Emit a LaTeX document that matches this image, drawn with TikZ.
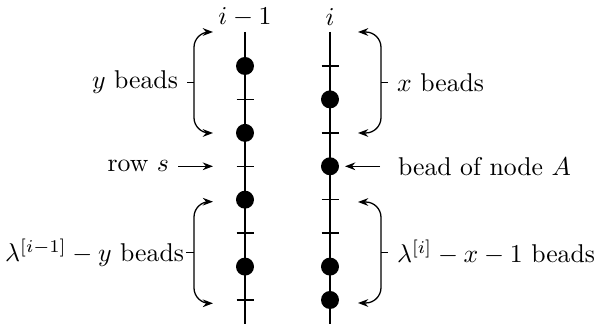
\documentclass[tikz,border=0pt]{standalone}
\usetikzlibrary{arrows.meta}
\begin{document}
\begin{tikzpicture}[x=0.3889pt,y=-0.3889pt,
  bead/.style={circle,fill=black,inner sep=0pt,minimum size=7pt},
  line/.style={line width=0.5pt},
  arr/.style={line width=0.5pt,-{Stealth[length=4pt,width=3pt]}},
  brace/.style={line width=0.5pt,rounded corners=6pt,{Stealth[length=4pt,width=3pt]}-{Stealth[length=4pt,width=3pt]}},
  lbl/.style={font=\fontsize{10pt}{12pt}\selectfont}]
\useasboundingbox (0,0) rectangle (600,324);
% runner labels
\node[lbl] (lt) at (245,17) {$i-1$};
\node[lbl] (rt) at (330,17) {$i$};
% runners
\coordinate (la) at (245,32); \coordinate (lb) at (245,324);
\coordinate (ra) at (330,32); \coordinate (rb) at (330,324);
\draw[line] (la) -- (lb);
\draw[line] (ra) -- (rb);
% left ticks
\foreach \y in {99.4,166.3,233.1,300}{\draw[line] (236.5,\y) -- (253.5,\y);}
% right ticks
\foreach \y in {66,132.9,199.7,233.1}{\draw[line] (321.5,\y) -- (338.5,\y);}
% beads
\node[bead] (l1) at (245,66) {};
\node[bead] (l3) at (245,132.9) {};
\node[bead] (l5) at (245,199.7) {};
\node[bead] (l7) at (245,266.6) {};
\node[bead] (r2) at (330,99.4) {};
\node[bead] (r4) at (330,166.3) {};
\node[bead] (r7) at (330,266.6) {};
\node[bead] (r8) at (330,300) {};
% left top brace
\coordinate (b1a) at (213,32); \coordinate (b1m) at (194,82.5); \coordinate (b1b) at (213,133);
\draw[brace] (b1a) -| (b1m) |- (b1b);
\node[lbl,anchor=east] (ylab) at (187,82.5) {$y$ beads};
\draw[line] (ylab.east) -- (b1m);
% row s
\node[lbl,anchor=east] (rows) at (178,166.3) {row $s$};
\coordinate (rsend) at (213,166.3);
\draw[arr] (rows.east) -- (rsend);
% left bottom brace
\coordinate (b2a) at (213,201.7); \coordinate (b2m) at (194,252.5); \coordinate (b2b) at (213,303.3);
\draw[brace] (b2a) -| (b2m) |- (b2b);
\node[lbl,anchor=east,inner xsep=0.6pt] (llab) at (186,252.5) {$\lambda^{[i-1]}-y$ beads};
\draw[line] (llab.east) -- (b2m);
% right top brace
\coordinate (b3a) at (358,32); \coordinate (b3m) at (381,82.5); \coordinate (b3b) at (358,133);
\draw[brace] (b3a) -| (b3m) |- (b3b);
\node[lbl,anchor=west] (xlab) at (388,82.5) {$x$ beads};
\draw[line] (b3m) -- (xlab.west);
% bead of node A
\node[lbl,anchor=west] (alab) at (389,166.3) {bead of node $A$};
\coordinate (astart) at (380,166.3); \coordinate (aend) at (345,166.3);
\draw[arr] (astart) -- (aend);
% right bottom brace
\coordinate (b4a) at (358,202); \coordinate (b4m) at (381,252.5); \coordinate (b4b) at (358,303);
\draw[brace] (b4a) -| (b4m) |- (b4b);
\node[lbl,anchor=west] (rlab) at (388,252.5) {$\lambda^{[i]}-x-1$ beads};
\draw[line] (b4m) -- (rlab.west);
\end{tikzpicture}
\end{document}
